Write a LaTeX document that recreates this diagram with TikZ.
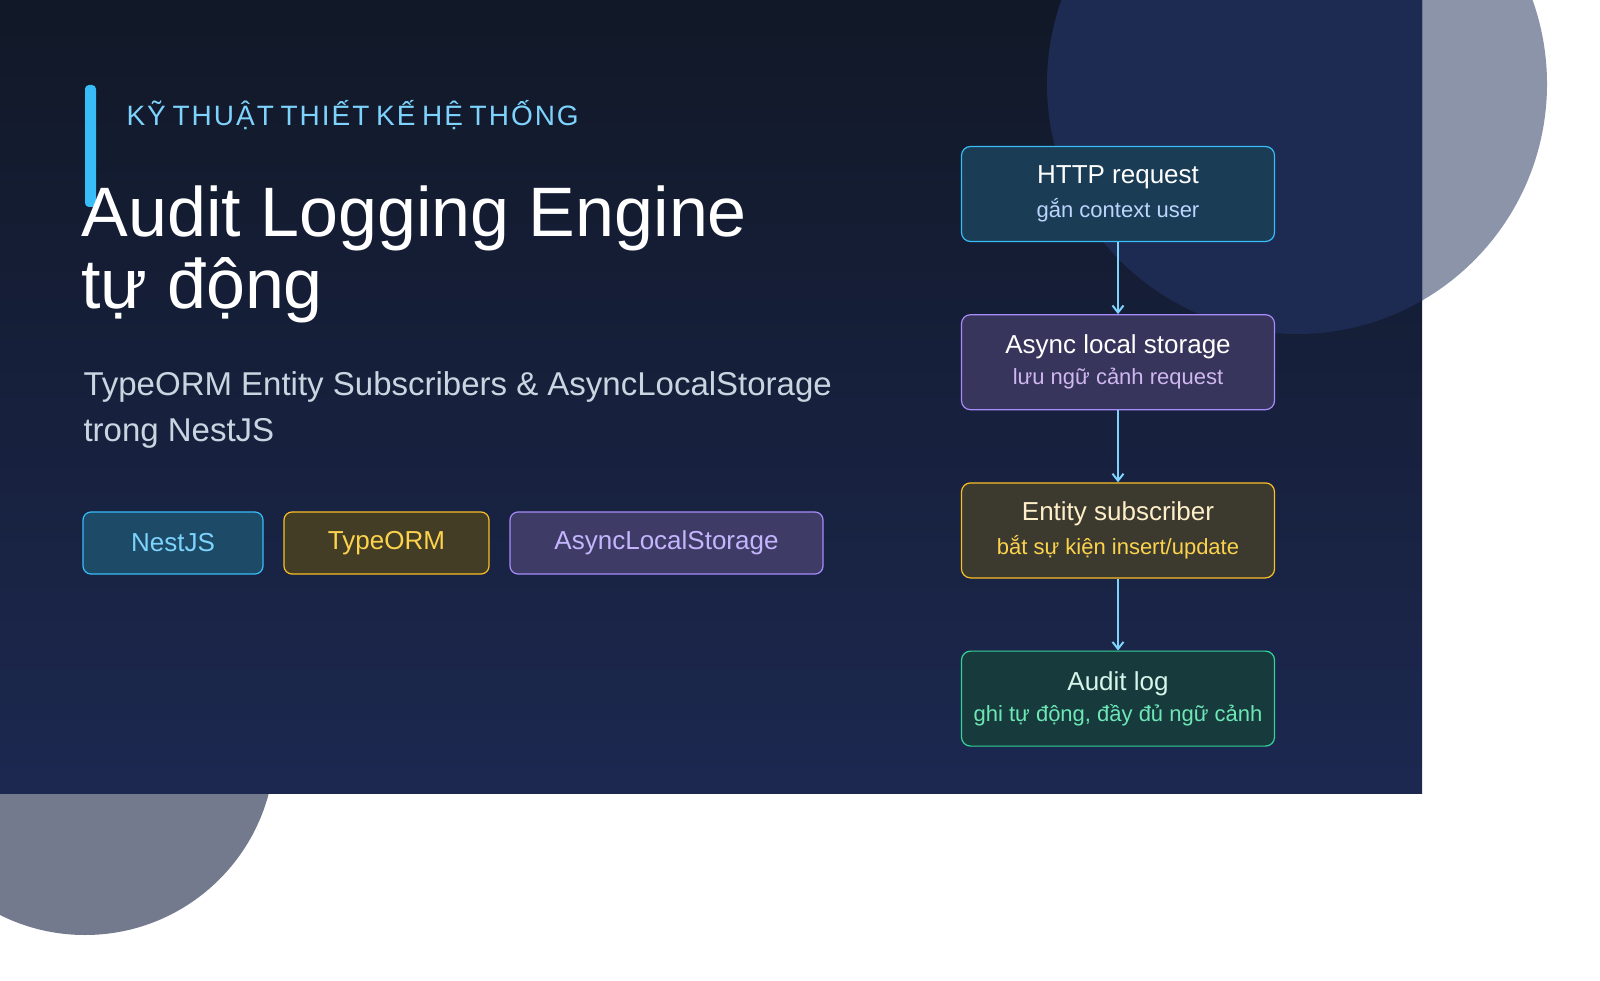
\documentclass[tikz,border=0pt]{standalone}
\usepackage{fontspec}
\setmainfont{Liberation Sans}
\usetikzlibrary{positioning,arrows.meta}
\definecolor{bgA}{HTML}{111827}
\definecolor{bgB}{HTML}{1C2850}
\definecolor{ringgray}{HTML}{8C94AA}
\definecolor{ringlow}{HTML}{737A8E}
\definecolor{ringin}{HTML}{1D2B52}
\definecolor{sky}{HTML}{38BDF8}
\definecolor{skyl}{HTML}{7DD3FC}
\definecolor{amber}{HTML}{FBBF24}
\definecolor{amberl}{HTML}{FCD34D}
\definecolor{violet}{HTML}{A78BFA}
\definecolor{violetl}{HTML}{C4B5FD}
\definecolor{mint}{HTML}{34D399}
\definecolor{mintl}{HTML}{6EE7B7}
\definecolor{slate}{HTML}{CBD5E1}
\tikzset{
  pill/.style={draw, line width=1.2pt, rounded corners=8pt, minimum height=62pt,
    font=\fontsize{26}{28}\selectfont, inner sep=0pt},
  flowbox/.style={draw, line width=1.2pt, rounded corners=9pt, minimum width=313pt,
    minimum height=95pt, align=center, inner sep=0pt},
  flow/.style={-{Straight Barb[length=7pt,width=11pt]}, skyl, line width=2pt}
}
\newcommand{\steptext}[4]{{\color{#1}\fontsize{26}{30}\selectfont #2}\\[8pt]{\color{#3}\fontsize{22}{24}\selectfont #4}}
\begin{document}
\begin{tikzpicture}[x=1pt,y=-1pt]
  \fill[white] (0,0) rectangle (1600,981);
  % background shapes
  \fill[ringlow] (85,745) circle (190);
  \fill[ringgray] (1297,84) circle (250);
  \begin{scope}
    \clip (0,0) rectangle (1422,793);
    \shade[left color=bgA, right color=bgB, shading angle=0] (0,0) rectangle (1422,793);
    \fill[ringin] (1297,84) circle (250);
  \end{scope}
  % heading
  \fill[sky, rounded corners=4pt] (85,85) rectangle (96,207);
  \node[anchor=west, text=skyl, font=\fontsize{28}{30}\selectfont] (kicker) at (123,115)
    {K\kern2pt Ỹ\kern2pt\,T\kern2pt H\kern2pt U\kern2pt Ậ\kern2pt T\kern2pt\,T\kern2pt H\kern2pt I\kern2pt Ế\kern2pt T\kern2pt\,K\kern2pt Ế\kern2pt\,H\kern2pt Ệ\kern2pt\,T\kern2pt H\kern2pt Ố\kern2pt N\kern2pt G};
  \node[anchor=west, text=white, font=\fontsize{70}{74}\selectfont] (title) at (78,218) {Audit Logging Engine};
  \node[anchor=west, text=white, font=\fontsize{70}{74}\selectfont] (title2) at (78,290) {tự động};
  \node[anchor=west, text=slate, font=\fontsize{33}{46}\selectfont, align=left] (sub) at (80,410)
    {TypeORM Entity Subscribers \& AsyncLocalStorage\\trong NestJS};
  % tags
  \node[pill, fill=sky!30!bgA, draw=sky, text=skyl, minimum width=180pt] (nest) at (173,543) {NestJS};
  \node[pill, fill=amber!22!bgA, draw=amber, text=amberl, minimum width=205pt] (orm) at (386.5,543) {TypeORM};
  \node[pill, fill=violet!30!bgA, draw=violet, text=violetl, minimum width=313pt] (als) at (666.5,543) {AsyncLocalStorage};
  % flow
  \node[flowbox, fill=sky!22!bgA, draw=sky] (http) at (1118,194) {\steptext{white}{HTTP request}{skyl!70!blue!40!white}{gắn context user}};
  \node[flowbox, fill=violet!25!bgA, draw=violet, below=72pt of http] (store) {\steptext{white}{Async local storage}{violetl!80!pink}{lưu ngữ cảnh request}};
  \node[flowbox, fill=amber!15!bgA!90!gray, draw=amber, below=72pt of store] (subs) {\steptext{amber!25!white}{Entity subscriber}{amberl}{bắt sự kiện insert/update}};
  \node[flowbox, fill=mint!18!bgA, draw=mint, below=72pt of subs] (log) {\steptext{mint!20!white}{Audit log}{mintl}{ghi tự động, đầy đủ ngữ cảnh}};
  \draw[flow] (http) -- (store);
  \draw[flow] (store) -- (subs);
  \draw[flow] (subs) -- (log);
  \pgfresetboundingbox
  \useasboundingbox (0,0) rectangle (1600,981);
\end{tikzpicture}
\end{document}
